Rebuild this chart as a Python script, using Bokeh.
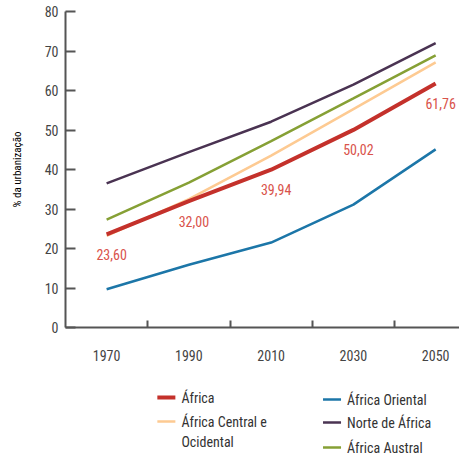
from bokeh.plotting import figure
from bokeh.models import FixedTicker, ColumnDataSource, LabelSet, Range1d
from bokeh.layouts import column
from bokeh.embed import file_html
from bokeh.resources import INLINE
from bokeh.core.properties import value

# ---- data ----
years = [1970, 1990, 2010, 2030, 2050]
africa = [23.60, 32.00, 39.94, 50.02, 61.76]
africa_central_ocidental = [23.2, 32.5, 43.5, 55.3, 67.1]
africa_oriental = [9.7, 15.9, 21.5, 31.1, 45.1]
norte_de_africa = [36.5, 44.4, 52.1, 61.5, 72.0]
africa_austral = [27.3, 36.7, 47.2, 58.0, 68.9]
africa_value_labels = ["23,60", "32,00", "39,94", "50,02", "61,76"]
y_ticks = [0, 10, 20, 30, 40, 50, 60, 70, 80]
x_tick_labels = ["1970", "1990", "2010", "2030", "2050"]
y_axis_title = "% da urbanização"

series_names = ["África", "África Central e Ocidental", "África Oriental",
                "Norte de África", "África Austral"]

# ---- styles ----
FONT = "'Roboto Condensed', 'Liberation Sans Narrow', Roboto, sans-serif"
C_RED = "#c4312b"
C_ORANGE = "#fdca92"
C_BLUE = "#1c76a8"
C_PURPLE = "#4a3352"
C_GREEN = "#86a035"
C_LABEL = "#d9534b"
C_AXIS = "#555555"

p = figure(frame_width=394, frame_height=316, width=459, height=371,
           x_range=Range1d(1960, 2055.8), y_range=Range1d(0, 80),
           output_backend="svg", toolbar_location=None,
           min_border_left=65, min_border_top=11, min_border_right=0,
           min_border_bottom=44)
p.outline_line_color = None
p.xgrid.visible = False
p.ygrid.visible = False
p.background_fill_color = "white"
p.border_fill_color = "white"

# lines (red on top)
p.line(years, africa_oriental, line_color=C_BLUE, line_width=2.5)
p.line(years, norte_de_africa, line_color=C_PURPLE, line_width=2.5)
p.line(years, africa_austral, line_color=C_GREEN, line_width=2.5)
p.line(years, africa_central_ocidental, line_color=C_ORANGE, line_width=2.5)
p.line(years, africa, line_color=C_RED, line_width=4)

src = ColumnDataSource(dict(x=years, y=africa, t=africa_value_labels))
labels = LabelSet(x="x", y="y", text="t", source=src, x_offset=5, y_offset=-20,
                  text_align="center", text_baseline="middle",
                  text_font=value(FONT), text_font_size="14px",
                  text_color=C_LABEL)
p.add_layout(labels)

# x axis
xa = p.xaxis[0]
xa.ticker = FixedTicker(ticks=years, minor_ticks=[1980, 2000, 2020, 2040])
xa.major_label_overrides = {y: s for y, s in zip(years, x_tick_labels)}
xa.major_tick_in = 0
xa.major_tick_out = 0
xa.minor_tick_in = 7
xa.minor_tick_out = 0
xa.minor_tick_line_color = C_AXIS
xa.minor_tick_line_width = 2
xa.axis_line_color = C_AXIS
xa.axis_line_width = 2
xa.major_label_standoff = 22
xa.major_label_text_font = FONT
xa.major_label_text_font_size = "14px"
xa.major_label_text_color = "#444444"

# y axis
ya = p.yaxis[0]
ya.ticker = FixedTicker(ticks=y_ticks)
ya.major_tick_in = 10
ya.major_tick_out = 0
ya.minor_tick_line_color = None
ya.major_tick_line_color = C_AXIS
ya.major_tick_line_width = 2
ya.axis_line_color = C_AXIS
ya.axis_line_width = 2
ya.major_label_standoff = 7
ya.major_label_text_font = FONT
ya.major_label_text_font_size = "14px"
ya.major_label_text_color = "#444444"
ya.axis_label = y_axis_title
ya.axis_label_text_font = FONT
ya.axis_label_text_font_size = "11px"
ya.axis_label_text_font_style = "normal"
ya.axis_label_text_color = "black"
ya.axis_label_standoff = 18

# ---- legend as a separate panel ----
lg = figure(width=459, height=86, x_range=Range1d(0, 459), y_range=Range1d(86, 0),
            output_backend="svg", toolbar_location=None,
            min_border=0)
lg.axis.visible = False
lg.grid.visible = False
lg.outline_line_color = None

legend_colors = [C_RED, C_ORANGE, C_BLUE, C_PURPLE, C_GREEN]
legend_x0 = [107, 107, 300, 300, 300]
legend_y = [26, 50, 28, 51, 76]
legend_text_lines = [["África"], ["África Central e", "Ocidental"],
                     ["África Oriental"], ["Norte de África"], ["África Austral"]]
seg_w = [4, 2.5, 2.5, 2.5, 2.5]

for name, col, x0, yy, lines, w in zip(series_names, legend_colors, legend_x0,
                                        legend_y, legend_text_lines, seg_w):
    lg.segment(x0=[x0], y0=[yy], x1=[x0 + 21], y1=[yy], line_color=col, line_width=w)
    tx = [x0 + 28] * len(lines)
    ty = [yy + 20 * i for i in range(len(lines))]
    lg.text(x=tx, y=ty, text=lines, text_font=value(FONT), text_font_size="14px",
            text_baseline="middle", text_align="left", text_color="#333333")

layout = column(p, lg, spacing=0)
open("out.html", "w").write(file_html(layout, INLINE))
